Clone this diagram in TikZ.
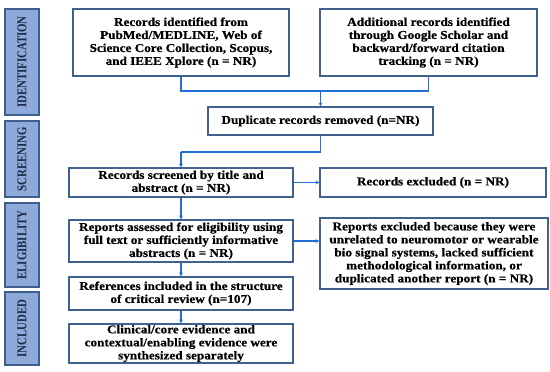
\documentclass[tikz,border=0pt]{standalone}
\usepackage{fontspec}
\setmainfont{Liberation Serif}
\newfontfamily\boxfont[FakeStretch=1.1,FakeBold=0.6]{Liberation Serif}
\newfontfamily\barfont[FakeStretch=0.8]{Liberation Serif}
\usetikzlibrary{arrows.meta}
\definecolor{boxline}{HTML}{41618F}
\definecolor{barfill}{HTML}{8EAADB}
\definecolor{barline}{HTML}{3D5F8E}
\definecolor{bartext}{HTML}{1C2743}
\definecolor{conn}{HTML}{1F70D4}
\tikzset{
  box/.style={draw=boxline, line width=1.1pt, fill=white, align=center, inner sep=0pt,
    font=\boxfont\bfseries\fontsize{12}{13}\selectfont},
  bar/.style={draw=barline, line width=1.1pt, fill=barfill, inner sep=0pt,
    font=\barfont\bfseries\fontsize{13.5}{14}\selectfont, text=bartext},
  link/.style={draw=conn, line width=1.3pt},
  arr/.style={link, -{Stealth[length=4pt,width=4pt]}}
}
\begin{document}
\begin{tikzpicture}[x=1pt,y=-1pt]
\useasboundingbox (0,0) rectangle (550,372);
% side bars
\node[bar, minimum width=106pt, minimum height=34pt, rotate=90] (bid) at (22,62) {IDENTIFICATION};
\node[bar, minimum width=76pt, minimum height=34pt, rotate=90] (bsc) at (22,159) {SCREENING};
\node[bar, minimum width=84pt, minimum height=34pt, rotate=90] (bel) at (22,245) {ELIGIBILITY};
\node[bar, minimum width=73pt, minimum height=34pt, rotate=90] (bin) at (22,328.5) {INCLUDED};
% boxes
\node[box, minimum width=216pt, minimum height=67pt] (b1) at (181,42.5) {Records identified from\\PubMed/MEDLINE, Web of\\Science Core Collection, Scopus,\\and IEEE Xplore (n = NR)};
\node[box, minimum width=217pt, minimum height=67pt] (b2) at (428.5,42.5) {Additional records identified\\through Google Scholar and\\backward/forward citation\\tracking (n = NR)};
\node[box, minimum width=225pt, minimum height=28pt] (dup) at (320.5,121) {Duplicate records removed (n=NR)};
\node[box, minimum width=224pt, minimum height=29pt] (scr) at (181,182.5) {Records screened by title and\\abstract (n = NR)};
\node[box, minimum width=226pt, minimum height=29pt] (exc) at (433,182.5) {Records excluded (n = NR)};
\node[box, minimum width=224pt, minimum height=42pt] (eli) at (181,241) {Reports assessed for eligibility using\\full text or sufficiently informative\\abstracts (n = NR)};
\node[box, minimum width=228pt, minimum height=71pt] (rex) at (434,253.5) {Reports excluded because they were\\unrelated to neuromotor or wearable\\bio signal systems, lacked sufficient\\methodological information, or\\duplicated another report (n = NR)};
\node[box, minimum width=224pt, minimum height=33pt] (ref) at (181,293.5) {References included in the structure\\of critical review (n=107)};
\node[box, minimum width=224pt, minimum height=39pt] (cli) at (181,343.5) {Clinical/core evidence and\\contextual/enabling evidence were\\synthesized separately};
% connectors
\coordinate (j1) at (181,91);
\coordinate (j2) at (428.5,91);
\coordinate (jm) at (320.5,91);
\coordinate (k1) at (320.5,152);
\coordinate (k2) at (181,152);
\draw[link] (b1.south) -- (j1) -- (j2) -- (b2.south);
\draw[arr] (jm) -- (dup.north);
\draw[link] (dup.south) -- (k1) -- (k2);
\draw[arr] (k2) -- (scr.north);
\draw[arr] (scr.east) -- (exc.west);
\draw[arr] (scr.south) -- (eli.north);
\draw[arr] (eli.east) -- (rex.west |- eli.east);
\draw[arr] (eli.south) -- (ref.north);
\draw[arr] (ref.south) -- (cli.north);
\end{tikzpicture}
\end{document}
